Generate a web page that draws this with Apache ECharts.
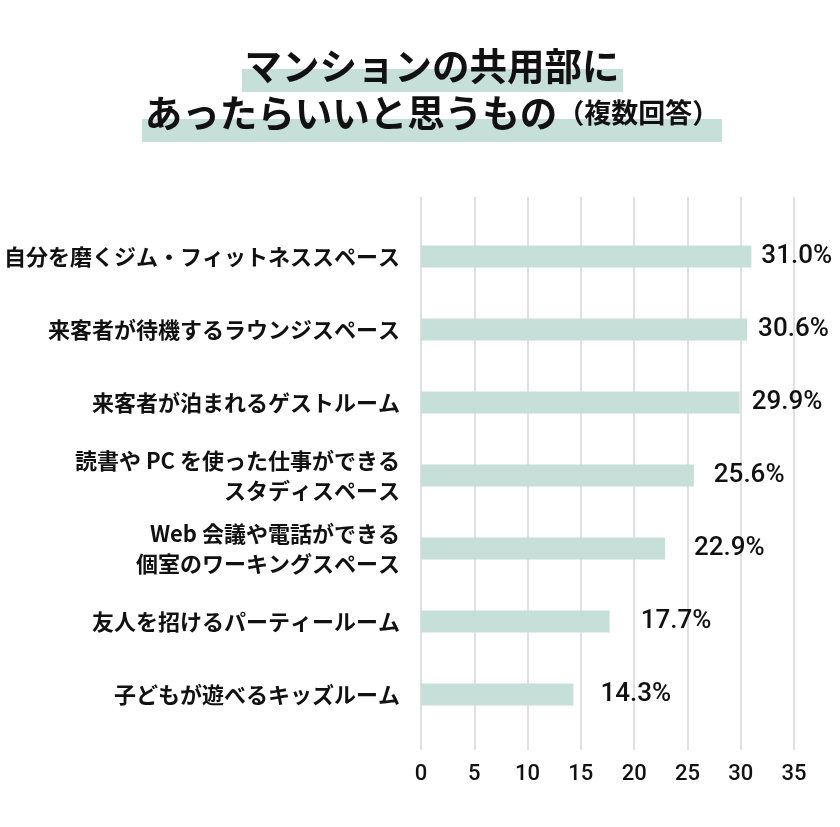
<!DOCTYPE html>
<html>
<head>
<meta charset="utf-8">
<script src="https://cdn.jsdelivr.net/npm/echarts@6/dist/echarts.min.js"></script>
<style>
  html, body { margin: 0; padding: 0; background: #fff; }
  #chart { width: 840px; height: 827px; }
</style>
</head>
<body>
<div id="chart"></div>
<script>
// data
const categories = [
  '自分を磨くジム・フィットネススペース',
  '来客者が待機するラウンジスペース',
  '来客者が泊まれるゲストルーム',
  '読書や PC を使った仕事ができる\nスタディスペース',
  'Web 会議や電話ができる\n個室のワーキングスペース',
  '友人を招けるパーティールーム',
  '子どもが遊べるキッズルーム'
]
const values = [31.0, 30.6, 29.9, 25.6, 22.9, 17.7, 14.3]
const xTicks = [0, 5, 10, 15, 20, 25, 30, 35]
// gap between bar end and its % label (px), as in the original
const labelGaps = [10, 11, 12, 20, 29, 31, 27]

const green = '#c6dfd8'
const jpFont = '"Noto Sans CJK JP", sans-serif'
const numFont = 'Roboto, "Liberation Sans", sans-serif'

const chart = echarts.init(document.getElementById('chart'))

chart.setOption({
  backgroundColor: '#fff',
  animation: false,
  graphic: [
    // title highlight bands
    { type: 'rect', z: 1, shape: { x: 242, y: 69, width: 381, height: 23 }, style: { fill: green } },
    { type: 'rect', z: 1, shape: { x: 142, y: 119, width: 580, height: 23 }, style: { fill: green } },
    {
      type: 'text', z: 2, x: 432, y: 66,
      style: {
        text: 'マンションの共用部に',
        font: 'bold 37.5px ' + jpFont,
        fill: '#111',
        align: 'center',
        verticalAlign: 'middle'
      }
    },
    {
      type: 'text', z: 2, x: 432, y: 113,
      style: {
        text: '{a|あったらいいと思うもの}{b|（複数回答）}',
        align: 'center',
        verticalAlign: 'middle',
        rich: {
          a: { fontSize: 37.5, fontWeight: 'bold', fontFamily: jpFont, fill: '#111' },
          b: { fontSize: 27, fontWeight: 'bold', fontFamily: jpFont, fill: '#111' }
        }
      }
    }
  ],
  grid: [
    { left: 421, right: 46, top: 197, bottom: 77, outerBoundsMode: 'none' },
    { left: 421, right: 46, top: 220, bottom: 96, outerBoundsMode: 'none' }
  ],
  xAxis: [
    {
      gridIndex: 0,
      type: 'value',
      min: 0,
      max: 35,
      interval: 5,
      axisLine: { show: false },
      axisTick: { show: false },
      splitLine: { show: true, lineStyle: { color: '#d6d6d6', width: 1.5 } },
      axisLabel: {
        margin: 13,
        fontSize: 22,
        fontWeight: 500,
        fontFamily: numFont,
        color: '#111',
        formatter: v => xTicks.includes(v) ? String(v) : ''
      }
    },
    { gridIndex: 1, type: 'value', min: 0, max: 35, show: false }
  ],
  yAxis: [
    { gridIndex: 0, type: 'value', show: false },
    {
      gridIndex: 1,
      type: 'category',
      inverse: true,
      data: categories,
      axisLine: { show: false },
      axisTick: { show: false },
      axisLabel: {
        margin: 21,
        fontSize: 22,
        fontWeight: 'bold',
        fontFamily: jpFont,
        color: '#111',
        lineHeight: 30,
        align: 'right'
      }
    }
  ],
  series: [
    {
      type: 'bar',
      xAxisIndex: 1,
      yAxisIndex: 1,
      barWidth: 22,
      itemStyle: { color: green },
      data: values.map((v, i) => ({
        value: v,
        label: { distance: labelGaps[i] }
      })),
      label: {
        show: true,
        position: 'right',
        fontSize: 26,
        fontWeight: 500,
        fontFamily: numFont,
        color: '#111',
        formatter: p => p.value.toFixed(1) + '%'
      }
    }
  ]
})
</script>
</body>
</html>
